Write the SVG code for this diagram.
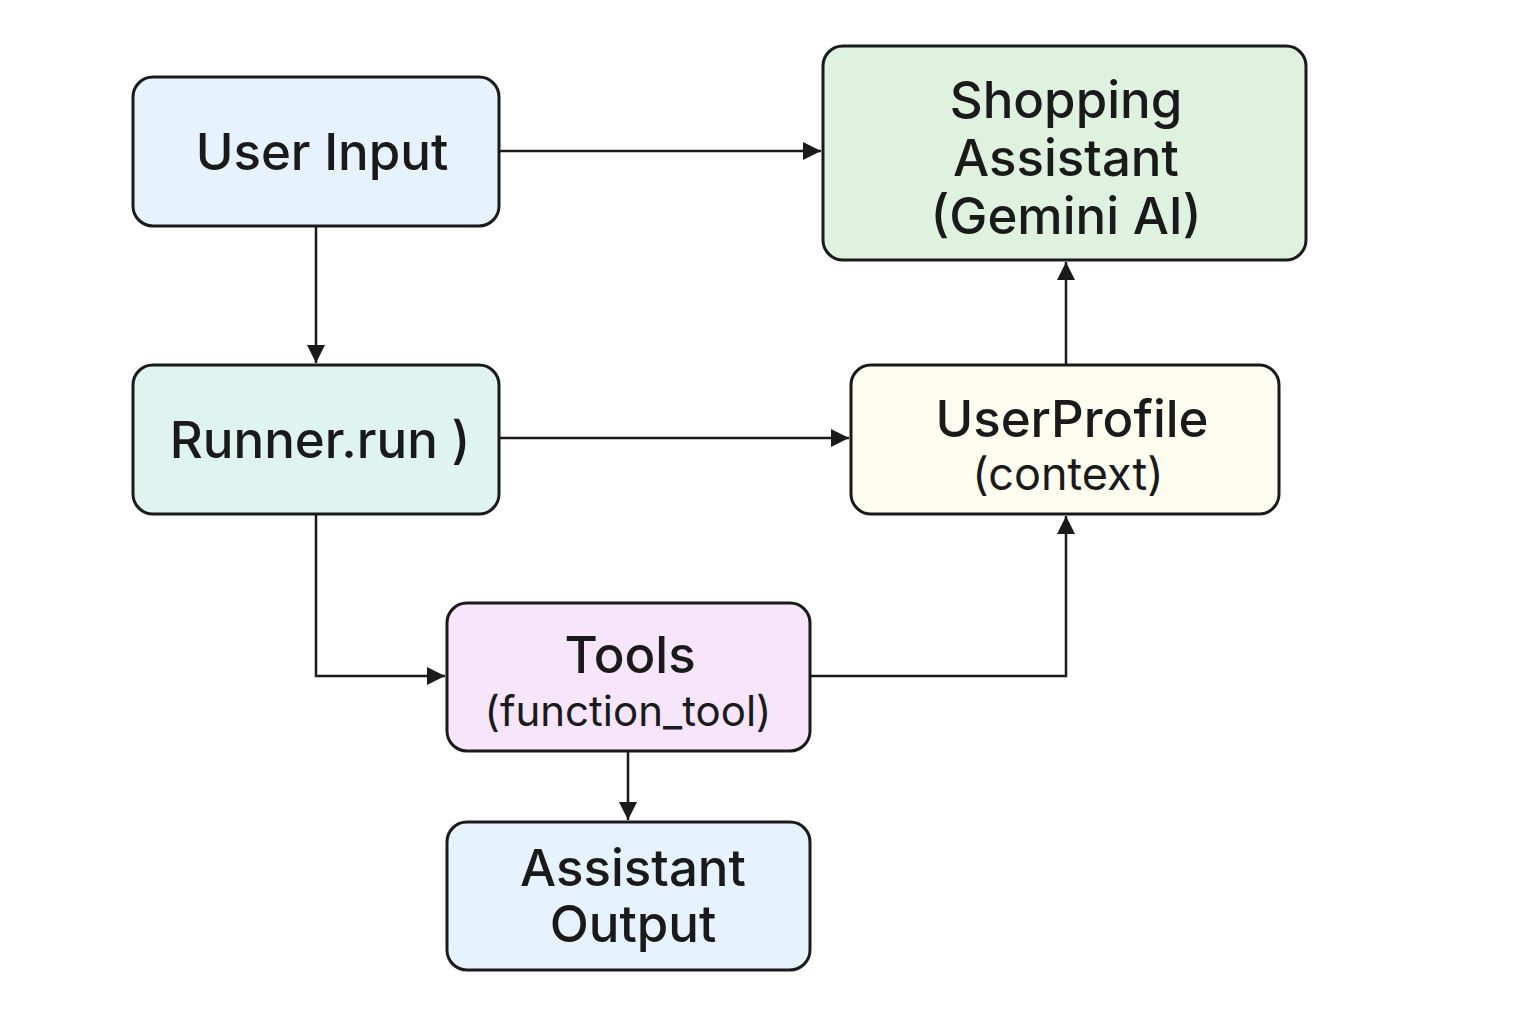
<svg xmlns="http://www.w3.org/2000/svg" width="1536" height="1024" viewBox="0 0 1536 1024">
<style>
.box{stroke:#1a1a1a;stroke-width:3}
.t{font-family:Inter,"Noto Sans","Liberation Sans",sans-serif;fill:#1a1a1a;text-anchor:middle}
.big{font-size:51px;font-weight:500}
.small{font-size:43px;font-weight:400}
.c{fill:none;stroke:#1a1a1a;stroke-width:2.5}
</style>
<defs>
<marker id="ah" viewBox="0 0 10 10" refX="10" refY="5" markerUnits="userSpaceOnUse" markerWidth="20" markerHeight="18" orient="auto">
<path d="M0,0 L10,5 L0,10 z" fill="#1a1a1a"/>
</marker>
</defs>
<rect width="1536" height="1024" fill="#ffffff"/>
<g id="connectors">
<path class="c" d="M499,151 H821" marker-end="url(#ah)"/>
<path class="c" d="M316,226 V363" marker-end="url(#ah)"/>
<path class="c" d="M499,438 H849" marker-end="url(#ah)"/>
<path class="c" d="M1066,365 V262" marker-end="url(#ah)"/>
<path class="c" d="M316,514 V676 H445" marker-end="url(#ah)"/>
<path class="c" d="M810,676 H1066 V516" marker-end="url(#ah)"/>
<path class="c" d="M628,751 V820" marker-end="url(#ah)"/>
</g>
<g id="user-input">
<rect class="box" x="133" y="77" width="366" height="149" rx="20" fill="#e6f2fe"/>
<text class="t big" x="322" y="170">User Input</text>
</g>
<g id="shopping-assistant">
<rect class="box" x="823" y="46" width="483" height="214" rx="20" fill="#dff1df"/>
<text class="t big" x="1066" y="118">Shopping</text>
<text class="t big" x="1066" y="176">Assistant</text>
<text class="t big" x="1066" y="234">(Gemini AI)</text>
</g>
<g id="runner">
<rect class="box" x="133" y="365" width="366" height="149" rx="20" fill="#dff3ef"/>
<text class="t big" x="320" y="458">Runner.run )</text>
</g>
<g id="user-profile">
<rect class="box" x="851" y="365" width="428" height="149" rx="20" fill="#fefdf0"/>
<text class="t big" x="1072" y="437">UserProfile</text>
<text class="t small" x="1068" y="490" style="font-size:45px">(context)</text>
</g>
<g id="tools">
<rect class="box" x="447" y="603" width="363" height="148" rx="20" fill="#f7e5fc"/>
<text class="t big" x="630" y="673">Tools</text>
<text class="t small" x="628" y="726" style="font-size:42px">(function_tool)</text>
</g>
<g id="assistant-output">
<rect class="box" x="447" y="822" width="363" height="148" rx="20" fill="#e6f2fe"/>
<text class="t big" x="633" y="886">Assistant</text>
<text class="t big" x="633" y="942">Output</text>
</g>
</svg>
